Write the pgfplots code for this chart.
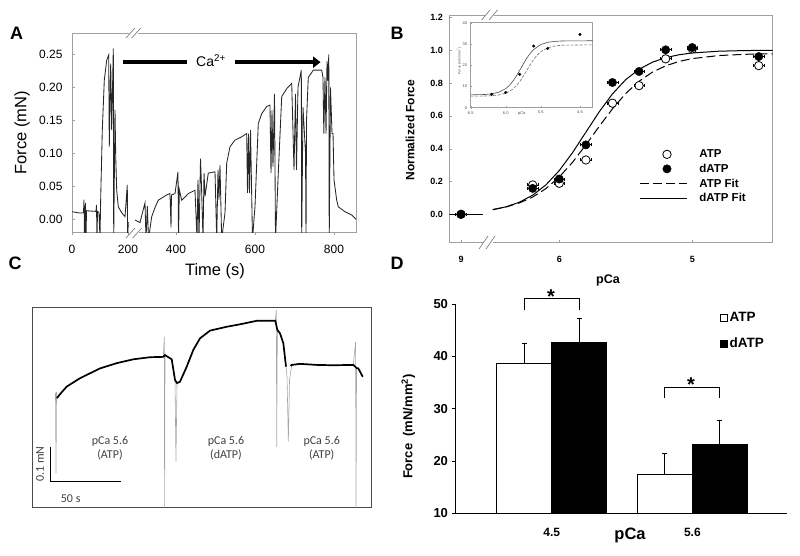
\documentclass[border=0pt]{standalone}
\usepackage{pgfplots}
\pgfplotsset{compat=1.18}
\usepackage{fontspec}
\setmainfont{Liberation Sans}
\newfontfamily\carlito{Carlito}
\newcommand{\fs}[1]{\fontsize{#1}{#1}\selectfont}
\pgfplotsset{
  markleg/.style={legend image code/.code={\path (0pt,0pt) (57pt,0pt); \draw[##1] plot coordinates {(26.5pt,0pt)};}},
  lineleg/.style={legend image code/.code={\path (0pt,0pt) (57pt,0pt); \draw[##1] (0pt,0pt) -- (47pt,0pt);}}
}
\begin{document}
\begin{tikzpicture}
\useasboundingbox (0pt,0pt) rectangle (800pt,-556pt);

% ================= Panel A =================
\begin{axis}[at={(72pt,-33pt)}, anchor=north west, scale only axis,
  width=284pt, height=199pt,
  xmin=136.7, xmax=855.8, ymin=-0.0192, ymax=0.2823,
  xtick={136.7,278.5,400,600,800}, xticklabels={0,200,400,600,800},
  ytick={0,0.05,0.1,0.15,0.2,0.25}, yticklabels={0.00,0.05,0.10,0.15,0.20,0.25},
  xtick pos=left, ytick pos=left, xtick align=outside, ytick align=inside,
  axis line style={gray!75, line width=0.8pt}, major tick length=3pt, tick style={gray!75},
  tick label style={font=\fs{12}},
  yticklabel style={xshift=-6pt}, xticklabel style={yshift=-7pt},
  /pgf/number format/assume math mode=true]
\addplot[black!85, line width=0.85pt] coordinates {
(136.7,0.0115) (157.0,0.0095) (165.8,0.010) (167.1,0.030) (168.4,-0.03) (170.9,0.025)
(172.2,-0.03) (173.4,0.013) (197.5,0.012) (198.7,0.022) (200.0,-0.03) (201.3,0.012)
(205.1,0.010) (207.6,-0.03) (209.4,0.034) (213.4,0.135) (218.5,0.211) (224.6,0.241)
(229.6,0.249) (231.1,0.110) (234.7,0.236) (237.2,0.135) (241.3,0.259) (242.3,-0.03)
(245.6,0.166) (247.4,0.095) (249.9,0.044) (253.9,0.019) (262.6,0.010) (270.9,0.004)
(276.7,0.052) (277.5,-0.03) (279.3,-0.004)};
\addplot[black!85, line width=0.85pt] coordinates {
(296.2,-0.001) (308.9,-0.005) (321.5,0.025) (324.1,-0.03) (327.4,0.020) (330.4,-0.03)
(338.5,0.004) (346.9,0.018) (355.2,0.029) (376.5,0.037) (384.8,0.039) (387.4,-0.012)
(388.6,0.037) (397.5,0.039) (405.1,0.072) (406.4,-0.03) (408.4,0.045) (414.5,0.029)
(431.2,0.039) (448.1,0.044) (453.2,-0.03) (455.7,0.060) (458.3,-0.03) (462.1,0.092)
(464.6,0.050) (468.4,-0.03) (471.0,0.070) (473.5,0.035) (481.8,0.070) (498.8,0.072)
(503.1,-0.03) (506.4,0.075) (508.9,0.030) (511.4,0.082) (515.7,-0.03) (524.1,0.010)
(528.4,0.085) (536.8,0.110) (549.4,0.120) (566.4,0.125) (579.0,0.130) (581.1,0.040)
(583.6,0.130) (586.1,0.040) (588.7,0.135) (593.7,-0.03) (600.1,0.020) (608.4,0.145)
(617.0,0.160) (629.7,0.171) (638.0,0.173) (640.6,0.070) (643.1,0.165) (645.6,0.080)
(649.4,0.190) (652.0,-0.03) (658.3,0.060) (667.7,0.186) (680.4,0.198) (693.0,0.206)
(698.8,0.075) (702.6,0.190) (705.1,0.075) (708.9,0.200) (717.3,0.226) (718.3,-0.03)
(721.6,0.170) (728.0,0.100) (729.2,-0.03) (730.5,0.150) (735.0,0.215) (747.7,0.226)
(769.0,0.226) (772.2,0.215) (774.3,0.130) (777.3,0.215) (779.9,0.130) (782.4,0.240)
(784.4,0.210) (786.9,0.250) (788.0,-0.03) (791.2,0.200) (795.0,0.130) (797.6,0.130)
(800.1,0.060) (806.9,0.029) (811.0,0.019) (828.0,0.0115) (844.9,0.0065) (855.8,0.0)};
\end{axis}
% break marks A
\fill[white] (128.5pt,-30pt) rectangle (137.5pt,-36pt);
\draw[gray, line width=0.7pt] (126pt,-38pt) -- (135pt,-28pt) (131.7pt,-38pt) -- (140.7pt,-28pt);
\fill[white] (129pt,-229pt) rectangle (139pt,-235pt);
\draw[gray, line width=0.7pt] (126pt,-238pt) -- (135pt,-228pt) (132.7pt,-238pt) -- (141.7pt,-228pt);
% Ca arrow
\fill[black] (123.3pt,-60pt) rectangle (186.7pt,-64.3pt);
\node[font=\fs{14}] at (211pt,-61pt) {Ca\textsuperscript{2+}};
\fill[black] (235pt,-60pt) rectangle (313.5pt,-64.3pt);
\fill[black] (313pt,-56.3pt) -- (320.5pt,-62.2pt) -- (313pt,-68pt) -- cycle;
\node[font=\fs{16.5}, rotate=90] at (22pt,-133pt) {Force (mN)};
\node[font=\fs{16.5}] at (215pt,-271pt) {Time (s)};
\node[font=\fs{18}\bfseries] at (16.7pt,-33pt) {A};

% ================= Panel B =================
\begin{axis}[at={(449.3pt,-15.7pt)}, anchor=north west, scale only axis,
  width=323.4pt, height=227pt, x dir=reverse,
  xmin=4.395, xmax=6.827, ymin=-0.173, ymax=1.21,
  xtick={6.739,6,5}, xticklabels={9,6,5},
  ytick={0,0.2,0.4,0.6,0.8,1.0,1.2}, yticklabels={0.0,0.2,0.4,0.6,0.8,1.0,1.2},
  tick align=inside, xtick pos=left, ytick pos=left, major tick length=3pt,
  axis line style={gray!75, line width=0.8pt}, tick style={gray!75},
  tick label style={font=\fs{9}\bfseries},
  yticklabel style={xshift=-3pt}, xticklabel style={yshift=-10pt},
  legend style={at={(0.589,0.417)}, anchor=north west, draw=none, fill=none,
    font=\fs{11.5}\bfseries, inner sep=0pt, nodes={inner sep=1.4pt}, row sep=2.1pt},
  legend cell align=left,
  /pgf/number format/assume math mode=true]
\addplot[black, line width=1pt, forget plot] coordinates {(6.827,0) (6.57,0)};
\addplot[black, line width=1pt, dash pattern=on 9pt off 4pt, forget plot] coordinates {
(6.5,0.0287) (6.4,0.0447) (6.3,0.0692) (6.2,0.1051) (6.1,0.1569) (6.0,0.2274) (5.9,0.3172)
(5.8,0.4228) (5.7,0.5350) (5.6,0.6427) (5.5,0.7363) (5.4,0.8106) (5.3,0.8659) (5.2,0.9047)
(5.1,0.9312) (5.0,0.9486) (4.8,0.9672) (4.6,0.9749) (4.395,0.9780)};
\addplot[black, line width=1pt, forget plot] coordinates {
(6.5,0.0281) (6.4,0.0457) (6.3,0.0736) (6.2,0.1165) (6.1,0.1795) (6.0,0.2664) (5.9,0.3760)
(5.8,0.5) (5.7,0.6240) (5.6,0.7336) (5.5,0.8205) (5.4,0.8835) (5.3,0.9265) (5.2,0.9543)
(5.1,0.9720) (5.0,0.9829) (4.8,0.9937) (4.6,0.9977) (4.395,0.9992)};
\addplot[only marks, mark=*, mark size=4.2pt, mark options={fill=white, draw=black, line width=0.8pt},
  forget plot, error bars/.cd, x dir=both, x fixed=0.04,
  error bar style={black, line width=0.8pt}, error mark options={rotate=90, mark size=1.5pt}] coordinates {
(6.739,0) (6.2,0.179) (6.0,0.189) (5.8,0.331) (5.6,0.677) (5.4,0.784) (5.2,0.947) (5.0,1.008) (4.5,0.906)};
\addplot[only marks, mark=*, mark size=4.2pt, mark options={fill=black, draw=black},
  forget plot, error bars/.cd, x dir=both, x fixed=0.04,
  error bar style={black, line width=0.8pt}, error mark options={rotate=90, mark size=1.5pt}] coordinates {
(6.739,0) (6.2,0.158) (6.0,0.215) (5.8,0.423) (5.6,0.803) (5.4,0.870) (5.2,1.002) (5.0,1.016) (4.5,0.961)};
\addlegendimage{only marks, mark=*, mark size=4.2pt, mark options={fill=white, draw=black, line width=0.8pt}, markleg}
\addlegendentry{ATP}
\addlegendimage{only marks, mark=*, mark size=4.2pt, mark options={fill=black, draw=black}, markleg}
\addlegendentry{dATP}
\addlegendimage{black, line width=1pt, dash pattern=on 9pt off 4pt, lineleg}
\addlegendentry{ATP Fit}
\addlegendimage{black, line width=1pt, lineleg}
\addlegendentry{dATP Fit}
\end{axis}
% break marks B
\fill[white] (485pt,-13pt) rectangle (494pt,-18.5pt);
\draw[gray, line width=0.7pt] (481.7pt,-20pt) -- (490pt,-10pt) (489pt,-20pt) -- (497.5pt,-10pt);
\fill[white] (484pt,-240pt) rectangle (493pt,-245.5pt);
\draw[gray, line width=0.7pt] (479pt,-249pt) -- (488pt,-236pt) (486pt,-249pt) -- (495pt,-236pt);
\node[font=\fs{12}\bfseries, rotate=90] at (410pt,-130pt) {Normalized Force};
\node[font=\fs{12.5}\bfseries] at (608pt,-280pt) {pCa};
\node[font=\fs{18}\bfseries] at (397pt,-33pt) {B};

% inset
\begin{axis}[at={(470.7pt,-22.7pt)}, anchor=north west, scale only axis,
  width=122pt, height=85pt, x dir=reverse,
  xmin=4.757, xmax=6.5, ymin=0, ymax=40,
  xtick={6.5,6.0,5.5,4.939}, xticklabels={6.5,6.0,5.5,4.5},
  ytick={0,10,20,30,40}, yticklabels={0,10,20,30,40},
  tick align=inside, xtick pos=left, ytick pos=left, major tick length=1.2pt,
  axis line style={gray!75, line width=0.5pt}, tick style={gray!75},
  tick label style={font=\fs{4}, text=black!70},
  axis background/.style={fill=white},
  /pgf/number format/assume math mode=true]
\addplot[black!55, line width=0.6pt, dash pattern=on 3pt off 1.5pt] coordinates {
(6.5,5.42) (6.3,5.50) (6.2,5.64) (6.1,5.99) (6.0,6.84) (5.95,7.60) (5.9,8.71) (5.85,10.26)
(5.8,12.29) (5.75,14.76) (5.7,17.5) (5.65,20.24) (5.6,22.71) (5.55,24.74) (5.5,26.3)
(5.4,28.17) (5.3,29.0) (5.2,29.4) (4.757,29.6)};
\addplot[black!70, line width=0.6pt] coordinates {
(6.5,6.03) (6.3,6.21) (6.2,6.52) (6.1,7.27) (6.0,8.97) (5.95,10.40) (5.9,12.34) (5.85,14.78)
(5.8,17.58) (5.75,20.50) (5.7,23.24) (5.65,25.59) (5.6,27.42) (5.5,29.70) (5.4,30.75)
(5.3,31.2) (5.2,31.4) (4.757,31.5)};
\addplot[only marks, mark=*, mark size=1.3pt, black] coordinates {
(6.2,6.3) (6.0,7.2) (5.8,15.7) (5.6,29.0) (5.4,27.9) (4.939,34.5)};
\end{axis}
\node[font=\fs{4}, text=black!70] at (521.7pt,-113.3pt) {pCa};
\node[font=\fs{3.5}, text=black!70, rotate=90] at (459pt,-61pt) {Force (mN/mm\textsuperscript{2})};

% ================= Panel C =================
\begin{axis}[at={(32.3pt,-307.3pt)}, anchor=north west, scale only axis,
  width=338.7pt, height=200.4pt,
  xmin=0, xmax=241.9, ymin=0, ymax=0.5726, xtick=\empty, ytick=\empty,
  axis line style={black!70, line width=0.8pt}]
\addplot[black!35, line width=0.6pt] coordinates {
(16.57,0.328) (16.93,0.099) (17.3,0.33) (17.64,0.313) (19.29,0.322) (24.57,0.346) (34.07,0.370)
(48.36,0.398) (60.29,0.413) (72.14,0.424) (84.07,0.430) (93.57,0.431) (94.07,0.471) (94.29,0.489)
(94.5,0) (94.79,0.436) (99.57,0.424) (101.93,0.365) (102.6,0.131) (103.36,0.356) (105.5,0.360)
(110.29,0.403) (115,0.451) (119.79,0.484) (126.93,0.506) (138.86,0.517) (148.36,0.524)
(160.29,0.534) (173.57,0.534) (174.29,0.565) (174.57,0.174) (175,0.508) (176.93,0.498)
(179.29,0.470) (181.21,0.403) (181.93,0.374) (182.86,0.189) (183.71,0.365) (185.29,0.408)
(191.21,0.411) (203.14,0.408) (215,0.407) (229.29,0.408) (230.93,0.474) (231.21,0)
(231.57,0.399) (232.86,0.398) (236,0.374)};
\addplot[black, line width=1.7pt] coordinates {
(17.64,0.313) (19.29,0.322) (24.57,0.346) (34.07,0.370) (48.36,0.398) (60.29,0.413)
(72.14,0.424) (84.07,0.430) (93.57,0.431) (94.79,0.436) (99.57,0.424) (101.93,0.365)
(103.36,0.356) (105.5,0.360) (110.29,0.403) (115,0.451) (119.79,0.484) (126.93,0.506)
(138.86,0.517) (148.36,0.524) (160.29,0.534) (173.57,0.534) (175,0.508) (176.93,0.498)
(179.29,0.470) (181.21,0.403)};
\addplot[black, line width=1.7pt] coordinates {
(184.5,0.405) (185.29,0.408) (191.21,0.411) (203.14,0.408) (215,0.407) (229.29,0.408)
(231.57,0.399) (232.86,0.398) (236,0.374)};
\end{axis}
\draw[black, line width=1.2pt] (50.7pt,-446.7pt) -- (50.7pt,-481.7pt) -- (120.7pt,-481.7pt);
\node[font=\carlito\fs{12}, text=black!75, rotate=90] at (40pt,-464pt) {0.1 mN};
\node[font=\carlito\fs{12}, text=black!75] at (70.7pt,-498.3pt) {50 s};
\node[font=\carlito\fontsize{12}{13.5}\selectfont, text=black!75, align=center] at (110pt,-448.5pt) {pCa 5.6\\(ATP)};
\node[font=\carlito\fontsize{12}{13.5}\selectfont, text=black!75, align=center] at (226pt,-448.5pt) {pCa 5.6\\(dATP)};
\node[font=\carlito\fontsize{12}{13.5}\selectfont, text=black!75, align=center] at (321.7pt,-448.5pt) {pCa 5.6\\(ATP)};
\node[font=\fs{18}\bfseries] at (15pt,-263pt) {C};

% ================= Panel D =================
\begin{axis}[at={(455pt,-304pt)}, anchor=north west, scale only axis,
  width=331.7pt, height=209.3pt,
  xmin=0.312, xmax=2.671, ymin=10, ymax=50,
  axis x line*=bottom, axis y line*=left,
  axis line style={black, line width=0.9pt},
  xtick={1,2}, xticklabels={4.5,5.6}, xtick style={draw=none},
  ytick={10,20,30,40,50}, yticklabels={10,20,30,40,50},
  ytick align=outside, ytick style={black, line width=0.9pt}, major tick length=3.5pt,
  yticklabel style={font=\fs{13}\bfseries},
  xticklabel style={font=\fs{12}\bfseries, yshift=-11pt},
  legend style={at={(0.799,0.967)}, anchor=north west, draw=none, fill=none,
    font=\fs{13.5}\bfseries, inner sep=0pt, nodes={inner sep=1.5pt}, row sep=11.6pt},
  legend cell align=left,
  /pgf/number format/assume math mode=true]
\addplot[ybar, bar shift=0pt, bar width=0.391, fill=white, draw=black, line width=1pt, forget plot,
  error bars/.cd, y dir=plus, y explicit, error bar style={black, line width=1pt},
  error mark options={rotate=90, mark size=2.4pt, line width=1pt}]
  coordinates {(0.8045,38.6) +- (0,3.9) (1.8045,17.4) +- (0,4.1)};
\addplot[ybar, bar shift=0pt, bar width=0.391, fill=black, draw=black, line width=1pt, forget plot,
  error bars/.cd, y dir=plus, y explicit, error bar style={black, line width=1pt},
  error mark options={rotate=90, mark size=2.4pt, line width=1pt}]
  coordinates {(1.1955,42.7) +- (0,4.5) (2.1955,23.2) +- (0,4.5)};
\addlegendimage{legend image code/.code={\draw[black, fill=white, line width=0.8pt] (0pt,-3.6pt) rectangle (7.2pt,3.6pt);}}
\addlegendentry{ATP}
\addlegendimage{legend image code/.code={\draw[black, fill=black, line width=0.8pt] (0pt,-3.6pt) rectangle (7.2pt,3.6pt);}}
\addlegendentry{dATP}
\end{axis}
\draw[black, line width=1pt] (524pt,-310pt) -- (524pt,-298.3pt) -- (579.3pt,-298.3pt) -- (579.3pt,-310pt);
\node[font=\fs{20}\bfseries, anchor=base] at (551pt,-303pt) {*};
\draw[black, line width=1pt] (664pt,-398.3pt) -- (664pt,-387.3pt) -- (719pt,-387.3pt) -- (719pt,-398.3pt);
\node[font=\fs{20}\bfseries, anchor=base] at (691pt,-391.4pt) {*};
\node[font=\fs{13}\bfseries, rotate=90] at (408.3pt,-426.7pt) {Force\ \ (mN/mm\textsuperscript{2})};
\node[font=\fs{16.5}\bfseries] at (630pt,-535pt) {pCa};
\node[font=\fs{18}\bfseries] at (397pt,-263pt) {D};
\end{tikzpicture}
\end{document}
